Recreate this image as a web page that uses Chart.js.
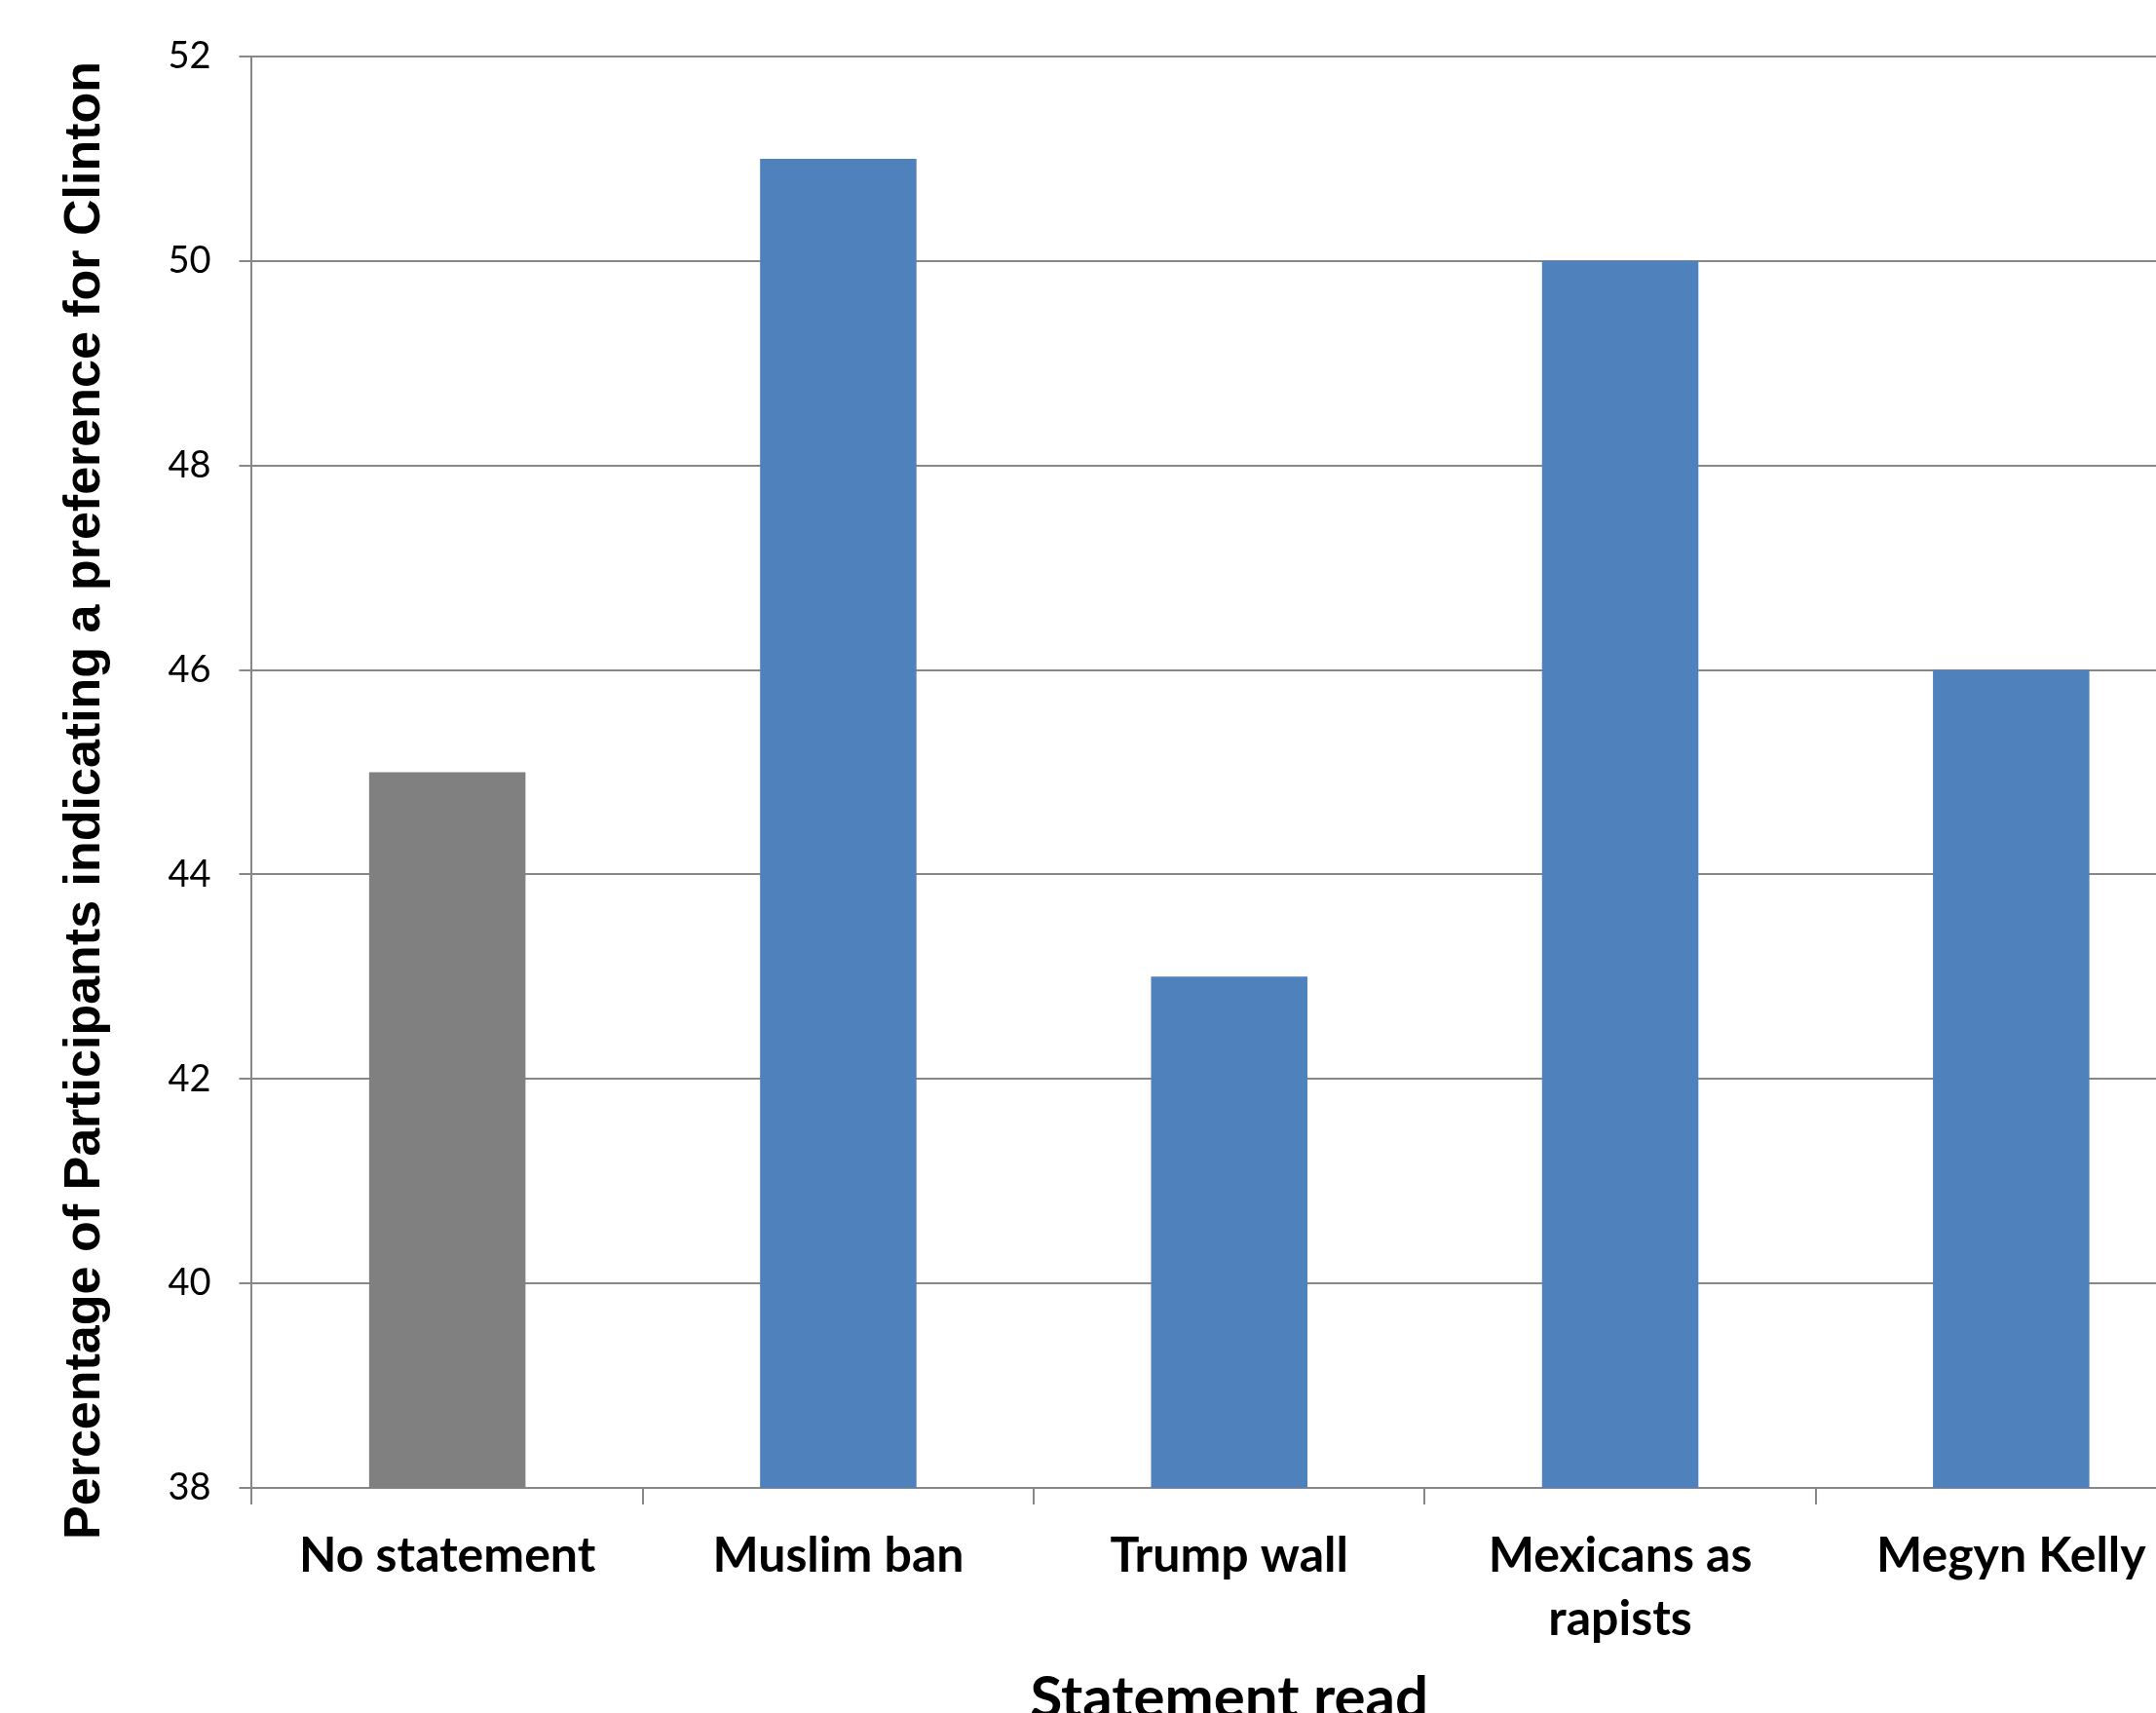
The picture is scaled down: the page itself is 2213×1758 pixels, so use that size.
<!DOCTYPE html>
<html>
<head>
<meta charset="utf-8">
<script src="https://cdn.jsdelivr.net/npm/chart.js@4"></script>
<style>
    html, body { margin: 0; padding: 0; background: #fff; overflow: hidden; }
    #wrap { width: 2265px; height: 1800px; }
</style>
</head>
<body>
<div id="wrap"><canvas id="statementChart" width="2265" height="1800"></canvas></div>
<script>
// Data
const statements = ['No statement', 'Muslim ban', 'Trump wall', ['Mexicans as', 'rapists'], 'Megyn Kelly'];
const clintonPct = [45, 51, 43, 50, 46];
const barColors = ['#808080', '#4F81BD', '#4F81BD', '#4F81BD', '#4F81BD'];
const yMin = 38;
const yMax = 52;
const yStep = 2;

const gridGray = '#878787';

// Function to build the bar chart
function createStatementChart(ctx) {
    return new Chart(ctx, {
        type: 'bar',
        data: {
            labels: statements,
            datasets: [{
                label: 'Clinton preference',
                data: clintonPct,
                backgroundColor: barColors,
                borderWidth: 0,
                barPercentage: 0.4,
                categoryPercentage: 1.0
            }]
        },
        options: {
            responsive: false,
            animation: false,
            layout: {
                padding: { top: 58, left: 0, right: 0, bottom: 0 }
            },
            plugins: {
                legend: { display: false },
                tooltip: { enabled: false }
            },
            scales: {
                x: {
                    grid: {
                        offset: true,
                        drawOnChartArea: false,
                        drawTicks: true,
                        tickLength: 17,
                        color: gridGray,
                        lineWidth: 2
                    },
                    border: { color: gridGray, width: 2 },
                    ticks: {
                        color: '#000',
                        padding: 20,
                        maxRotation: 0,
                        autoSkip: false,
                        font: { family: 'Lato', weight: 'bold', size: 50, lineHeight: 1.3 }
                    },
                    title: {
                        display: true,
                        text: 'Statement read',
                        color: '#000',
                        padding: { top: 0, bottom: 26 },
                        font: { family: 'Lato', weight: 'bold', size: 60, lineHeight: 1.0 }
                    }
                },
                y: {
                    min: yMin,
                    max: yMax,
                    grid: {
                        color: gridGray,
                        lineWidth: 2,
                        tickLength: 13
                    },
                    border: { color: gridGray, width: 2 },
                    ticks: {
                        stepSize: yStep,
                        color: '#000',
                        padding: 29,
                        font: { family: 'Lato', size: 38 }
                    },
                    title: {
                        display: true,
                        text: 'Percentage of Participants indicating a preference for Clinton    ',
                        color: '#000',
                        padding: { top: 56, bottom: 25 },
                        font: { family: '"Liberation Sans", Arial, sans-serif', weight: 'bold', size: 52, lineHeight: 1.2 }
                    }
                }
            }
        }
    });
}

document.fonts.load('bold 50px Lato').then(() => document.fonts.load('38px Lato')).then(() => {
    createStatementChart(document.getElementById('statementChart'));
});
</script>
</body>
</html>
